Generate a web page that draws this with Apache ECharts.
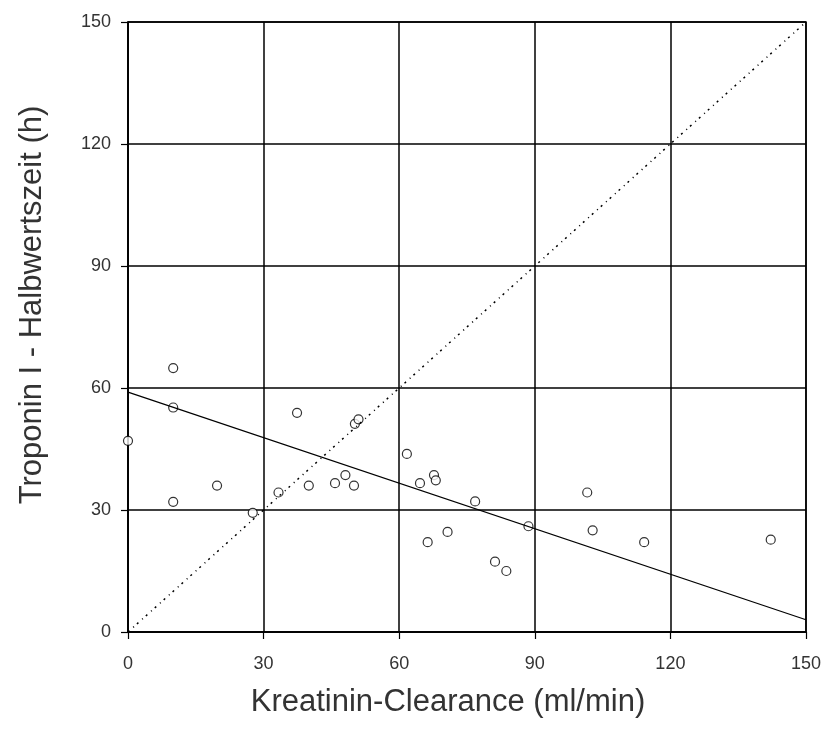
<!DOCTYPE html>
<html style="height: 100%">
<head>
    <meta charset="utf-8">
    <title>Troponin I</title>
    <script src="https://cdn.jsdelivr.net/npm/echarts@6/dist/echarts.min.js"></script>
</head>
<body style="height: 100%; margin: 0; background: #fff">
<div id="main" style="width: 824px; height: 737px"></div>
<script type="text/javascript">
    // Messwerte: Kreatinin-Clearance (ml/min) vs. Troponin I Halbwertszeit (h)
    var clearance = [0, 10, 10, 10, 19.7, 27.6, 33.3, 37.4, 40.0, 45.8, 48.1, 50.0, 50.2, 51.0,
        61.7, 64.6, 67.7, 68.1, 76.8, 66.3, 70.7, 81.2, 83.7, 88.6, 101.6, 102.8, 114.2, 142.2];
    var halbwertszeit = [47.0, 64.9, 55.2, 32.0, 36.0, 29.3, 34.3, 53.9, 36.0, 36.6, 38.6, 36.0, 51.2, 52.3,
        43.8, 36.6, 38.6, 37.3, 32.1, 22.1, 24.6, 17.3, 15.0, 26.0, 34.3, 25.0, 22.1, 22.7];
    // Regressionsgerade und Winkelhalbierende (Endpunkte)
    var regression = [[0, 59.0], [150, 3.0]];
    var identity = [[0, 0], [150, 150]];
    var ticks = [0, 30, 60, 90, 120, 150];

    var points = [];
    for (var i = 0; i < clearance.length; i++) {
        points.push([clearance[i], halbwertszeit[i]]);
    }

    var font = 'Liberation Sans, Arial, sans-serif';
    var axisCommon = {
        type: 'value',
        min: ticks[0],
        max: ticks[ticks.length - 1],
        interval: 30,
        nameLocation: 'middle',
        axisLine: { show: true, lineStyle: { color: '#000', width: 1.5 } },
        axisTick: { show: true, inside: false, length: 7, lineStyle: { color: '#000', width: 1.2 } },
        axisLabel: { fontFamily: font, fontSize: 18, color: '#333' },
        splitLine: { show: true, lineStyle: { color: '#000', width: 1.5 } }
    };

    var myChart = echarts.init(document.getElementById('main'));
    var option = {
        backgroundColor: '#fff',
        animation: false,
        grid: { left: 128, right: 18, top: 22, bottom: 105, show: true, borderColor: '#000', borderWidth: 1.5 },
        xAxis: Object.assign({}, axisCommon, {
            name: 'Kreatinin-Clearance (ml/min)',
            nameGap: 55,
            // Titel sitzt etwas links der Mitte
            nameTextStyle: { fontFamily: font, fontSize: 31, color: '#333', padding: [0, 38, 0, 0] },
            axisLabel: Object.assign({}, axisCommon.axisLabel, { margin: 23 })
        }),
        yAxis: Object.assign({}, axisCommon, {
            name: 'Troponin I - Halbwertszeit (h)',
            nameGap: 80,
            nameTextStyle: { fontFamily: font, fontSize: 31, color: '#333', padding: [0, 0, 0, 44] },
            axisLabel: Object.assign({}, axisCommon.axisLabel, { margin: 17 })
        }),
        series: [
            {
                type: 'line',
                data: identity,
                symbol: 'none',
                lineStyle: { color: '#000', width: 1.5, type: [2, 5, 1, 4] }
            },
            {
                type: 'line',
                data: regression,
                symbol: 'none',
                lineStyle: { color: '#000', width: 1.2 }
            },
            {
                type: 'scatter',
                data: points,
                symbol: 'circle',
                symbolSize: 9,
                itemStyle: { color: '#fff', borderColor: '#000', borderWidth: 1.2 }
            }
        ]
    };
    myChart.setOption(option);
</script>
</body>
</html>
